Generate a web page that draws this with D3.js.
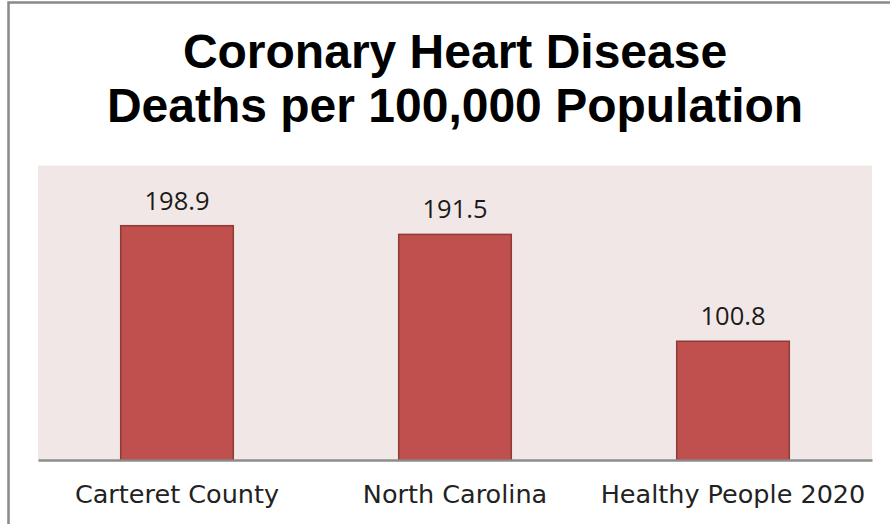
<!DOCTYPE html>
<html>
<head>
<meta charset="utf-8">
<script src="https://cdn.jsdelivr.net/npm/d3@7"></script>
<style>
  html, body { margin: 0; padding: 0; background: #ffffff; }
  svg { display: block; }
</style>
</head>
<body>
<svg id="chart" width="890" height="524"></svg>
<script>
const titleLines = ["Coronary Heart Disease", "Deaths per 100,000 Population"];
const categories = ["Carteret County", "North Carolina", "Healthy People 2020"];
const values = [198.9, 191.5, 100.8];
const yDomain = [0, 250];

const svg = d3.select("#chart");
const W = 890, H = 524;
const plot = { left: 38, right: 872, top: 165.5, bottom: 460 };

// outer frame
svg.append("rect")
  .attr("x", 8.5).attr("y", 2.5)
  .attr("width", W + 20).attr("height", H + 20)
  .attr("fill", "#ffffff")
  .attr("stroke", "#898989").attr("stroke-width", 2.5);

// title
const title = svg.append("text")
  .attr("text-anchor", "middle")
  .attr("font-family", "'Liberation Sans', Arial, sans-serif")
  .attr("font-weight", "bold")
  .attr("font-size", 48)
  .attr("fill", "#000000");
title.selectAll("tspan").data(titleLines).join("tspan")
  .attr("x", 455)
  .attr("y", (d, i) => 68 + i * 54)
  .text(d => d);

const x = d3.scaleBand()
  .domain(categories)
  .range([plot.left, plot.right])
  .paddingInner(0.595)
  .paddingOuter(0.2975);

const y = d3.scaleLinear().domain(yDomain).range([plot.bottom, plot.top]);

// plot background
svg.append("rect")
  .attr("x", plot.left).attr("y", y(yDomain[1]))
  .attr("width", plot.right - plot.left)
  .attr("height", plot.bottom - y(yDomain[1]))
  .attr("fill", "#F2E7E7");

const data = categories.map((c, i) => ({ c, v: values[i] }));

// bars
svg.append("g").selectAll("rect").data(data).join("rect")
  .attr("x", d => x(d.c))
  .attr("y", d => y(d.v))
  .attr("width", x.bandwidth())
  .attr("height", d => y(0) - y(d.v))
  .attr("fill", "#C0504D")
  .attr("stroke", "#8E3A37")
  .attr("stroke-width", 1.5);

// value labels
svg.append("g").selectAll("text").data(data).join("text")
  .attr("x", d => x(d.c) + x.bandwidth() / 2)
  .attr("y", d => y(d.v) - 16)
  .attr("text-anchor", "middle")
  .attr("font-family", "'Open Sans', sans-serif")
  .attr("font-size", 25.5)
  .attr("fill", "#1a1a1a")
  .text(d => d.v.toFixed(1));

// x axis
const xAxis = svg.append("g")
  .attr("transform", `translate(0,${plot.bottom})`)
  .call(d3.axisBottom(x).tickSize(0).tickPadding(0));
xAxis.select(".domain")
  .attr("stroke", "#8C8C8C").attr("stroke-width", 2.5);
xAxis.selectAll(".tick text")
  .attr("y", 43)
  .attr("dy", 0)
  .attr("font-family", "'DejaVu Sans', sans-serif")
  .attr("font-size", 25.5)
  .attr("fill", "#222222");
</script>
</body>
</html>
